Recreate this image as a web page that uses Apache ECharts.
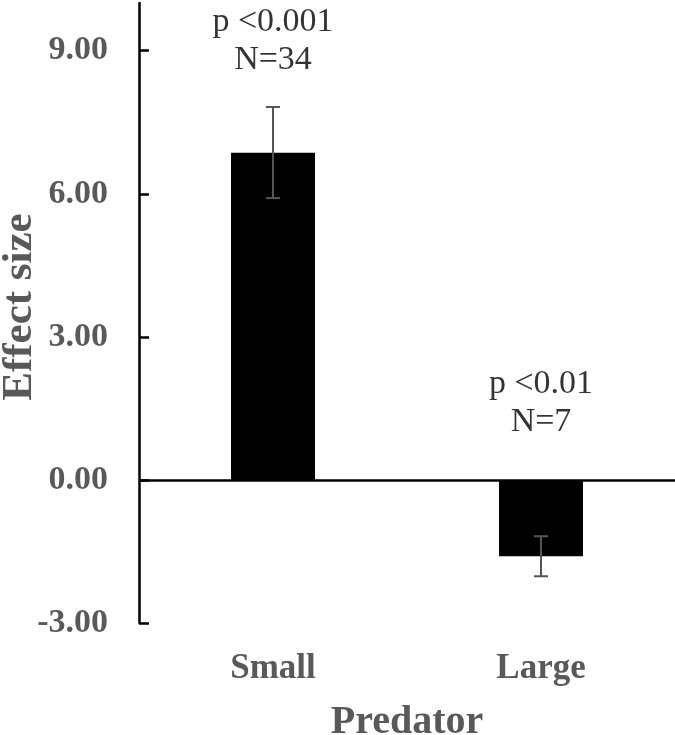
<!DOCTYPE html>
<html>
<head>
<meta charset="utf-8">
<script src="https://cdn.jsdelivr.net/npm/echarts@6/dist/echarts.min.js"></script>
<style>
html,body{margin:0;padding:0;background:#fff;}
#chart{width:675px;height:735px;}
</style>
</head>
<body>
<div id="chart"></div>
<script>
const categories = ['Small', 'Large'];
const effectSize = [6.86, -1.60];
const errLow = [5.91, -2.02];
const errHigh = [7.82, -1.18];
const annotations = ['p <0.001\nN=34', 'p <0.01\nN=7'];
const annotationY = [9.2, 1.62];
const yTicks = [-3, 0, 3, 6, 9];

const FONT = '"Liberation Serif", "Times New Roman", serif';
const GRAY = '#595959';

const chart = echarts.init(document.getElementById('chart'));
chart.setOption({
  animation: false,
  backgroundColor: '#fff',
  grid: { left: 139, right: 0, top: 3, bottom: 112, containLabel: false, outerBoundsMode: 'none' },
  xAxis: {
    type: 'category',
    data: categories,
    axisLine: { show: false, onZero: false },
    axisTick: { show: false },
    axisLabel: { margin: 28, color: GRAY, fontFamily: FONT, fontWeight: 'bold', fontSize: 35 },
    name: 'Predator',
    nameLocation: 'middle',
    nameGap: 80,
    nameMoveOverlap: false,
    nameTextStyle: { color: GRAY, fontFamily: FONT, fontWeight: 'bold', fontSize: 40 }
  },
  yAxis: {
    type: 'value',
    min: -3,
    max: 10,
    interval: 3,
    splitLine: { show: false },
    axisLine: { show: true, lineStyle: { color: '#000', width: 2.5 } },
    axisTick: { show: true, inside: true, length: 10, lineStyle: { color: '#000', width: 2.5 }, customValues: yTicks },
    axisLabel: {
      margin: 31, color: GRAY, fontFamily: FONT, fontWeight: 'bold', fontSize: 34,
      customValues: yTicks,
      formatter: v => v.toFixed(2)
    },
    name: 'Effect size',
    nameLocation: 'middle',
    nameGap: 98,
    nameMoveOverlap: false,
    nameTextStyle: { color: GRAY, fontFamily: FONT, fontWeight: 'bold', fontSize: 43, padding: [0, 0, 0, 12] }
  },
  series: [
    {
      type: 'bar',
      data: effectSize,
      barWidth: 84,
      itemStyle: { color: '#000' },
      markLine: {
        silent: true,
        symbol: 'none',
        label: { show: false },
        lineStyle: { color: '#000', width: 2.5, type: 'solid' },
        data: [{ yAxis: 0 }]
      }
    },
    {
      type: 'custom',
      data: categories.map((c, i) => [i, errLow[i], errHigh[i]]),
      renderItem: function (params, api) {
        const x = api.value(0);
        const lo = api.coord([x, api.value(1)]);
        const hi = api.coord([x, api.value(2)]);
        const half = 7;
        const style = { stroke: '#555', lineWidth: 2 };
        return {
          type: 'group',
          children: [
            { type: 'line', shape: { x1: lo[0], y1: lo[1], x2: hi[0], y2: hi[1] }, style },
            { type: 'line', shape: { x1: lo[0] - half, y1: lo[1], x2: lo[0] + half, y2: lo[1] }, style },
            { type: 'line', shape: { x1: hi[0] - half, y1: hi[1], x2: hi[0] + half, y2: hi[1] }, style }
          ]
        };
      },
      z: 5
    },
    {
      type: 'scatter',
      symbolSize: 0,
      data: categories.map((c, i) => [i, annotationY[i]]),
      label: {
        show: true,
        position: 'inside',
        formatter: p => annotations[p.dataIndex],
        color: '#000',
        fontFamily: FONT,
        fontSize: 34,
        lineHeight: 38
      }
    }
  ]
});
</script>
</body>
</html>
